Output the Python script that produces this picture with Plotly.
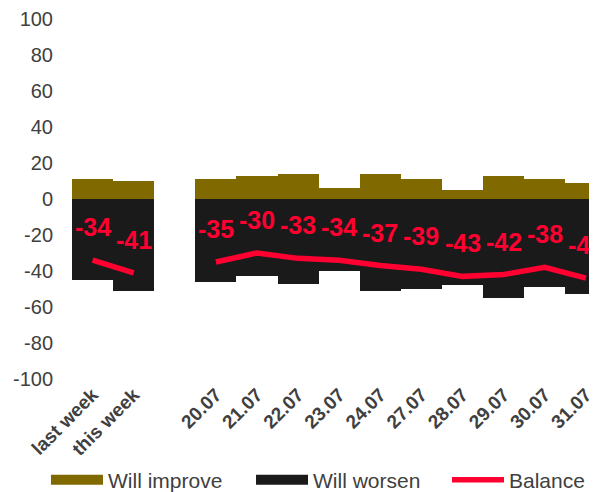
import plotly.graph_objects as go

categories = ["last week", "this week", " ", "20.07", "21.07", "22.07", "23.07",
              "24.07", "27.07", "28.07", "29.07", "30.07", "31.07"]
will_improve = [11, 10, None, 11, 13, 14, 6, 14, 11, 5, 13, 11, 9]
will_worsen = [-45, -51, None, -46, -43, -47, -40, -51, -50, -48, -55, -49, -53]
balance = [-34, -41, None, -35, -30, -33, -34, -37, -39, -43, -42, -38, -44]
y_ticks = [100, 80, 60, 40, 20, 0, -20, -40, -60, -80, -100]

OLIVE = "#806a00"
BLACK = "#1a1a1a"
RED = "#ff0030"
GREY_TXT = "#404040"
FONT = "Liberation Sans, Arial, sans-serif"

fig = go.Figure()
fig.add_trace(go.Bar(x=categories, y=will_improve, marker=dict(color=OLIVE, line=dict(width=0)),
                     showlegend=False, name="Will improve"))
fig.add_trace(go.Bar(x=categories, y=will_worsen, marker=dict(color=BLACK, line=dict(width=0)),
                     showlegend=False, name="Will worsen"))
fig.add_trace(go.Scatter(x=categories, y=balance, mode="lines", line=dict(color=RED, width=5.5),
                         connectgaps=False, showlegend=False, name="Balance"))

# legend entries (one legend each, so they sit exactly where the reference has them)
fig.add_trace(go.Scatter(x=[None], y=[None], mode="lines", line=dict(color=OLIVE, width=10),
                         name="Will improve", legend="legend"))
fig.add_trace(go.Scatter(x=[None], y=[None], mode="lines", line=dict(color=BLACK, width=10),
                         name="Will worsen", legend="legend2"))
fig.add_trace(go.Scatter(x=[None], y=[None], mode="lines", line=dict(color=RED, width=5.5),
                         name="Balance", legend="legend3"))

for i, v in enumerate(balance):
    if v is None:
        continue
    fig.add_annotation(x=i, y=v, text=str(v), showarrow=False, yshift=33,
                       font=dict(family=FONT, size=25, color=RED, weight="bold"))

leg_common = dict(orientation="h", xref="container", yref="container", y=0.0248,
                  xanchor="left", yanchor="middle", itemwidth=52,
                  font=dict(family=FONT, size=21, color=GREY_TXT))

# page body adds an 8px margin: figure is shifted by 8px right/down
fig.update_layout(
    width=589, height=484,
    margin=dict(l=64, r=0, t=10, b=109),
    barmode="relative", bargap=0,
    plot_bgcolor="white", paper_bgcolor="white",
    font=dict(family=FONT, color=GREY_TXT),
    legend=dict(x=0.0645, **leg_common),
    legend2=dict(x=0.4126, **leg_common),
    legend3=dict(x=0.7453, **leg_common),
)
fig.update_xaxes(type="category", categoryorder="array", categoryarray=categories,
                 range=[-0.5, 12.27], tickangle=-45, showgrid=False, showline=False, zeroline=False,
                 tickfont=dict(family=FONT, size=19, color=GREY_TXT, weight="bold"))
fig.update_yaxes(range=[-100, 100], tickvals=y_ticks, ticktext=[str(t) for t in y_ticks],
                 showgrid=False, showline=False, zeroline=False, ticklabelstandoff=18,
                 ticklabeloverflow="allow",
                 tickfont=dict(family=FONT, size=20, color=GREY_TXT))

fig.write_html("out.html")
